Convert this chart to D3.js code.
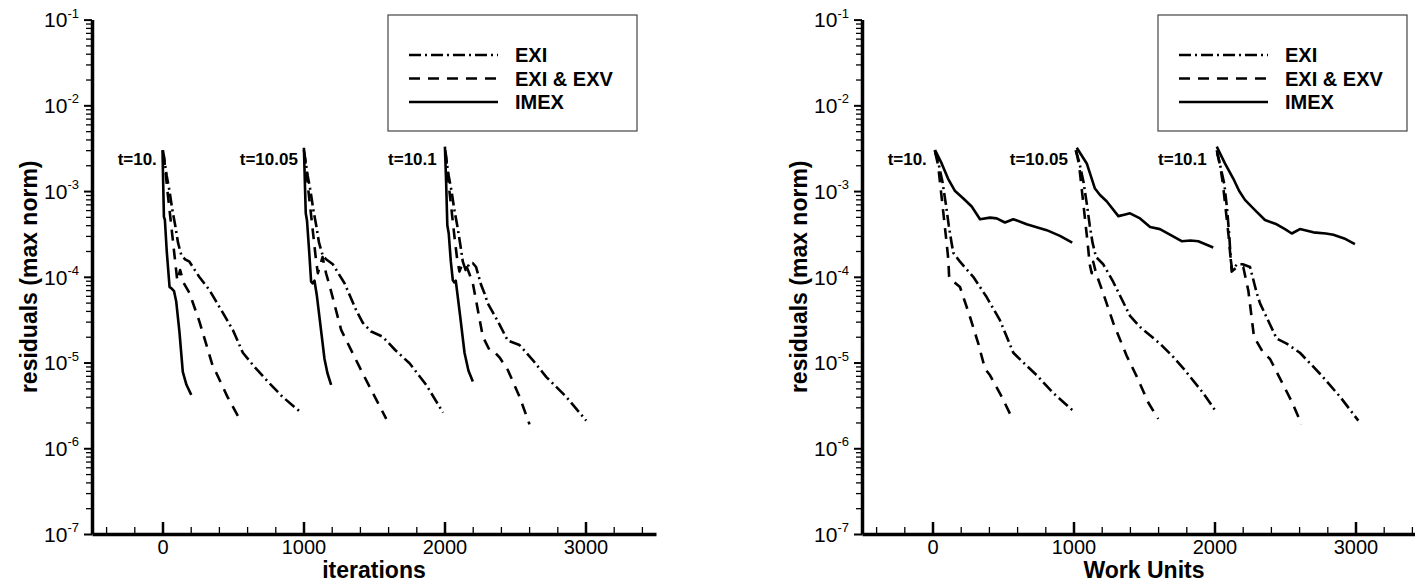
<!DOCTYPE html>
<html>
<head>
<meta charset="utf-8">
<script src="https://cdn.jsdelivr.net/npm/d3@7"></script>
<style>
  body { margin: 0; background: #fff; }
  svg { display: block; font-family: "Liberation Sans", Arial, sans-serif; }
</style>
</head>
<body>
<svg id="chart" width="1415" height="582"></svg>
<script>
// --- data ---
const seriesNames = ["EXI", "EXI & EXV", "IMEX"];
const stepLabels = ["t=10.", "t=10.05", "t=10.1"];
const stepLabelX = [-40, 960, 1945];
const stepLabelY = 2e-3;
const xTicksMajor = [0, 1000, 2000, 3000];
const yDecades = [-7, -6, -5, -4, -3, -2, -1];

// left panel: iterations
const exiIter = [
  [[3,3e-3],[15,2.2e-3],[30,1.5e-3],[50,1e-3],[70,6e-4],[90,4e-4],[110,2.5e-4],[133,1.8e-4],[160,1.6e-4],[191,1.5e-4],[260,1e-4],[333,7e-5],[420,4e-5],[499,2.4e-5],[570,1.3e-5],[650,9e-6],[735,6.3e-6],[850,4e-6],[972,2.7e-6]],
  [[1003,3e-3],[1015,2.2e-3],[1030,1.5e-3],[1050,1e-3],[1070,6e-4],[1090,4e-4],[1110,2.5e-4],[1135,1.8e-4],[1160,1.6e-4],[1208,1.4e-4],[1291,8.4e-5],[1373,4.1e-5],[1421,2.9e-5],[1480,2.3e-5],[1562,2e-5],[1650,1.4e-5],[1752,9.8e-6],[1870,5.5e-6],[1990,2.6e-6]],
  [[2005,3e-3],[2015,2.2e-3],[2030,1.5e-3],[2050,1e-3],[2070,6e-4],[2090,4e-4],[2110,2.5e-4],[2130,1.5e-4],[2150,1.2e-4],[2175,1.4e-4],[2200,1.45e-4],[2224,1.3e-4],[2260,8e-5],[2284,6.4e-5],[2307,4.9e-5],[2380,3e-5],[2449,1.8e-5],[2490,1.7e-5],[2532,1.6e-5],[2626,1.07e-5],[2721,6.8e-6],[2862,4e-6],[3005,2.1e-6]]
];
const exvIter = [
  [[8,2.7e-3],[20,1.8e-3],[35,1e-3],[50,6e-4],[70,3e-4],[90,1.5e-4],[105,9e-5],[125,1.2e-4],[150,8.5e-5],[191,6.5e-5],[262,3e-5],[357,9e-6],[381,7.6e-6],[460,4e-6],[546,2.2e-6]],
  [[1005,2.8e-3],[1020,1.8e-3],[1035,1e-3],[1050,6e-4],[1070,3e-4],[1090,1.5e-4],[1102,1.1e-4],[1135,1.7e-4],[1160,1.1e-4],[1184,8e-5],[1267,2.4e-5],[1421,7.4e-6],[1587,2.2e-6]],
  [[2008,2.8e-3],[2020,1.8e-3],[2035,1e-3],[2050,6e-4],[2070,3e-4],[2090,1.6e-4],[2106,1.15e-4],[2125,1.4e-4],[2150,1.4e-4],[2175,1.1e-4],[2201,8.4e-5],[2272,2e-5],[2319,1.4e-5],[2360,1.3e-5],[2390,1.15e-5],[2449,8.2e-6],[2532,4e-6],[2603,1.9e-6]]
];
const imexIter = [
  [[0,3e-3],[5,1.2e-3],[10,5e-4],[17,4.6e-4],[30,2e-4],[50,7.6e-5],[62,7.4e-5],[82,6.8e-5],[97,5.2e-5],[120,2.3e-5],[144,7.8e-6],[170,5.5e-6],[204,4.2e-6]],
  [[1003,3.2e-3],[1010,1.2e-3],[1016,5.5e-4],[1025,4.5e-4],[1040,2e-4],[1054,8.8e-5],[1065,8.4e-5],[1078,9e-5],[1095,6e-5],[1113,3.4e-5],[1149,1.1e-5],[1170,7.5e-6],[1196,5.5e-6]],
  [[2003,3.3e-3],[2012,1.2e-3],[2020,4e-4],[2030,3.2e-4],[2045,1.5e-4],[2059,9.1e-5],[2070,8.6e-5],[2080,9e-5],[2110,3.6e-5],[2142,1.3e-5],[2170,8e-6],[2201,6e-6]]
];

// right panel: work units
const exiWork = [
  [[15,3e-3],[40,2.2e-3],[70,1.3e-3],[95,7e-4],[115,4e-4],[135,2.5e-4],[148,1.9e-4],[195,1.5e-4],[289,1e-4],[384,5.8e-5],[479,3.1e-5],[573,1.3e-5],[644,1e-5],[739,7.1e-6],[857,4.4e-6],[991,2.8e-6]],
  [[1015,3e-3],[1040,2.2e-3],[1070,1.3e-3],[1095,7e-4],[1115,4e-4],[1135,2.5e-4],[1160,1.7e-4],[1211,1.4e-4],[1282,8.7e-5],[1401,3.5e-5],[1472,2.6e-5],[1613,1.66e-5],[1700,1.2e-5],[1791,8.1e-6],[1920,4.4e-6],[2016,2.6e-6]],
  [[2016,3e-3],[2040,2e-3],[2070,1.2e-3],[2090,6e-4],[2105,3e-4],[2115,1.6e-4],[2125,1.2e-4],[2160,1.4e-4],[2200,1.4e-4],[2252,1.3e-4],[2299,6.5e-5],[2323,4.9e-5],[2441,1.9e-5],[2512,1.66e-5],[2606,1.3e-5],[2748,7.4e-6],[2890,4e-6],[3020,2.1e-6]]
];
const exvWork = [
  [[20,2.8e-3],[40,2e-3],[60,1e-3],[80,5e-4],[100,2.5e-4],[112,1.6e-4],[118,1e-4],[124,9.5e-5],[195,7.6e-5],[266,3.4e-5],[325,1.66e-5],[372,8.5e-6],[408,7.1e-6],[491,4e-6],[573,2.1e-6]],
  [[1020,2.9e-3],[1040,2e-3],[1060,1e-3],[1080,5e-4],[1100,2.5e-4],[1115,1.4e-4],[1129,1.1e-4],[1140,1.5e-4],[1160,1.1e-4],[1211,6.4e-5],[1282,2.9e-5],[1377,1.2e-5],[1448,6.9e-6],[1531,3.4e-6],[1601,2.2e-6]],
  [[2018,2.8e-3],[2040,2e-3],[2060,1.2e-3],[2080,6e-4],[2100,3e-4],[2115,1.6e-4],[2122,1.15e-4],[2160,1.3e-4],[2204,1.3e-4],[2240,6.9e-5],[2280,2e-5],[2346,1.3e-5],[2394,1.1e-5],[2465,6.5e-6],[2548,3.5e-6],[2618,1.9e-6]]
];
const imexWork = [
  [[18,3e-3],[65,2.1e-3],[110,1.4e-3],[160,1e-3],[219,8.2e-4],[278,6.6e-4],[337,4.7e-4],[408,4.9e-4],[455,4.8e-4],[514,4.3e-4],[573,4.7e-4],[668,4.1e-4],[810,3.5e-4],[904,3e-4],[991,2.5e-4]],
  [[1023,3.2e-3],[1094,2.1e-3],[1152,1.07e-3],[1188,9e-4],[1235,7.6e-4],[1318,5.1e-4],[1360,5.3e-4],[1401,5.5e-4],[1472,4.8e-4],[1543,3.8e-4],[1613,3.6e-4],[1684,3.1e-4],[1767,2.6e-4],[1830,2.65e-4],[1885,2.6e-4],[1991,2.2e-4]],
  [[2016,3.3e-3],[2074,2.1e-3],[2133,1.4e-3],[2175,1e-3],[2216,7.9e-4],[2287,6e-4],[2358,4.6e-4],[2441,4.1e-4],[2500,3.6e-4],[2548,3.2e-4],[2606,3.6e-4],[2701,3.3e-4],[2790,3.2e-4],[2843,3.1e-4],[2920,2.8e-4],[2996,2.4e-4]]
];

// --- layout ---
const svg = d3.select("#chart");
const plotW = 564, yTop = 19.6, yBot = 534;
const dashes = { "EXI": "12,4,2,4", "EXI & EXV": "11,8", "IMEX": null };

const panels = [
  { left: 92, title: "iterations", series: [exiIter, exvIter, imexIter] },
  { left: 862, title: "Work Units", series: [exiWork, exvWork, imexWork] }
];

const y = d3.scaleLog().domain([1e-7, 1e-1]).range([yBot, yTop]);
const minorY = [];
for (let e = -7; e < -1; e++) {
  for (let k = 2; k <= 9; k++) minorY.push(k * Math.pow(10, e));
}
const minorX = d3.range(-400, 3500, 200).filter(v => v % 1000 !== 0);

panels.forEach(p => {
  const x = d3.scaleLinear().domain([-500, 3500]).range([p.left, p.left + plotW]);
  const g = svg.append("g");

  // y axis: minor ticks
  g.append("g")
    .attr("transform", `translate(${p.left},0)`)
    .call(d3.axisLeft(y).tickValues(minorY).tickSize(6).tickSizeOuter(0).tickFormat(""))
    .call(a => a.select(".domain").remove())
    .call(a => a.selectAll("line").attr("stroke-width", 1.3));

  // y axis: decades
  const ya = g.append("g")
    .attr("transform", `translate(${p.left},0)`)
    .call(d3.axisLeft(y).tickValues(yDecades.map(e => Math.pow(10, e))).tickSize(8).tickSizeOuter(0).tickPadding(5).tickFormat(""));
  ya.select(".domain").attr("stroke-width", 3.5);
  ya.selectAll("line").attr("stroke-width", 2);
  ya.selectAll(".tick text")
    .attr("font-size", 21).attr("fill", "#000").attr("dy", "0.35em")
    .each(function (d) {
      const t = d3.select(this);
      t.append("tspan").text("10");
      t.append("tspan").attr("font-size", 13).attr("dy", "-0.75em").text(Math.round(Math.log10(d)));
    });

  // x axis: minor ticks pointing up
  g.append("g")
    .attr("transform", `translate(0,${yBot})`)
    .call(d3.axisBottom(x).tickValues(minorX).tickSizeInner(-7).tickSizeOuter(0).tickFormat(""))
    .call(a => a.select(".domain").remove())
    .call(a => a.selectAll("line").attr("stroke-width", 1.3));

  const xa = g.append("g")
    .attr("transform", `translate(0,${yBot})`)
    .call(d3.axisBottom(x).tickValues(xTicksMajor).tickSizeInner(-12).tickSizeOuter(0).tickPadding(6).tickFormat(d3.format("d")));
  xa.select(".domain").attr("stroke-width", 3.5);
  xa.selectAll("line").attr("stroke-width", 2.5);
  xa.selectAll("text").attr("font-size", 20).attr("fill", "#000");

  // axis titles
  g.append("text")
    .attr("x", (p.left + p.left + plotW) / 2).attr("y", 578)
    .attr("text-anchor", "middle").attr("font-size", 23).attr("font-weight", "bold")
    .text(p.title);
  g.append("text")
    .attr("transform", `translate(${p.left - 55},${(yTop + yBot) / 2}) rotate(-90)`)
    .attr("text-anchor", "middle").attr("font-size", 23).attr("font-weight", "bold")
    .text("residuals (max norm)");

  // curves
  const line = d3.line().x(d => x(d[0])).y(d => y(d[1]));
  p.series.forEach((steps, i) => {
    g.append("g").selectAll("path")
      .data(steps)
      .join("path")
      .attr("d", line)
      .attr("fill", "none")
      .attr("stroke", "#000")
      .attr("stroke-width", 2.6)
      .attr("stroke-linejoin", "round")
      .attr("stroke-dasharray", dashes[seriesNames[i]]);
  });

  // time step labels
  g.append("g").selectAll("text")
    .data(stepLabels)
    .join("text")
    .attr("x", (d, i) => x(stepLabelX[i]))
    .attr("y", y(stepLabelY))
    .attr("text-anchor", "end")
    .attr("font-size", 17).attr("font-weight", "bold")
    .text(d => d);

  // legend
  const lg = g.append("g").attr("transform", `translate(${p.left + 296},15)`);
  lg.append("rect").attr("width", 249).attr("height", 116)
    .attr("fill", "#fff").attr("stroke", "#444").attr("stroke-width", 1.2);
  seriesNames.forEach((name, i) => {
    const ry = 40 + i * 23.5;
    lg.append("line")
      .attr("x1", 21).attr("x2", 110).attr("y1", ry).attr("y2", ry)
      .attr("stroke", "#000").attr("stroke-width", 2.6)
      .attr("stroke-dasharray", dashes[name]);
    lg.append("text")
      .attr("x", 127).attr("y", ry + 7)
      .attr("font-size", 20).attr("font-weight", "bold")
      .text(name);
  });
});
</script>
</body>
</html>
